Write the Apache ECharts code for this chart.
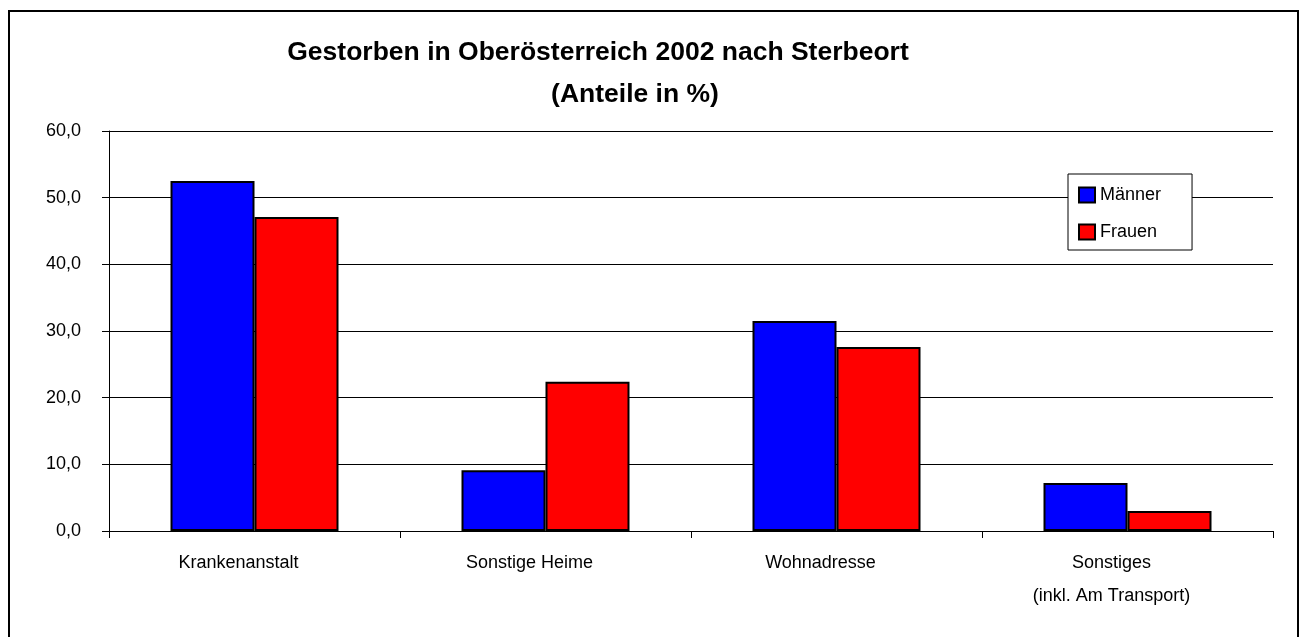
<!DOCTYPE html>
<html lang="de">
<head>
    <meta charset="UTF-8">
    <title>Gestorben in Oberösterreich 2002 nach Sterbeort</title>
    <script src="https://cdn.jsdelivr.net/npm/echarts@6/dist/echarts.min.js"></script>
    <style>
        html, body { margin: 0; padding: 0; background: #fff; }
        #main { width: 1301px; height: 637px; }
    </style>
</head>
<body>
<div id="main"></div>
<script>
    var categories = ['Krankenanstalt', 'Sonstige Heime', 'Wohnadresse', 'Sonstiges\n(inkl. Am Transport)'];
    var seriesNames = ['Männer', 'Frauen'];
    var maenner = [52.5, 9.1, 31.5, 7.2];
    var frauen = [47.1, 22.4, 27.6, 3.0];
    var titleLines = ['Gestorben in Oberösterreich 2002 nach Sterbeort', '(Anteile in %)'];

    var font = "'Liberation Sans', Arial, sans-serif";
    var myChart = echarts.init(document.getElementById('main'));

    var option = {
        animation: false,
        backgroundColor: '#fff',
        textStyle: { fontFamily: font },
        graphic: [
            {
                type: 'rect',
                shape: { x: 9, y: 11, width: 1289, height: 700 },
                style: { fill: 'none', stroke: '#000', lineWidth: 2 },
                silent: true
            },
            {
                type: 'text',
                style: {
                    text: titleLines[0], x: 598, y: 53,
                    textAlign: 'center', textVerticalAlign: 'middle',
                    font: 'bold 26.5px ' + font, fill: '#000'
                }
            },
            {
                type: 'text',
                style: {
                    text: titleLines[1], x: 635, y: 95,
                    textAlign: 'center', textVerticalAlign: 'middle',
                    font: 'bold 26.5px ' + font, fill: '#000'
                }
            }
        ],
        legend: {
            data: seriesNames,
            orient: 'vertical',
            left: 1068,
            top: 174,
            icon: 'rect',
            itemWidth: 16,
            itemHeight: 15,
            itemGap: 19,
            padding: [12, 31, 9, 10],
            borderColor: '#000',
            borderWidth: 1,
            borderRadius: 0,
            backgroundColor: '#fff',
            textStyle: { fontSize: 18, color: '#000', lineHeight: 18, fontFamily: font }
        },
        grid: {
            left: 109,
            top: 131,
            width: 1164,
            height: 400,
            containLabel: false
        },
        xAxis: {
            type: 'category',
            data: categories,
            axisLine: { lineStyle: { color: '#000', width: 1 } },
            axisTick: { show: true, length: 7, lineStyle: { color: '#000' } },
            axisLabel: {
                color: '#000',
                fontSize: 18,
                lineHeight: 33,
                margin: 16,
                interval: 0,
                padding: [0, 32, 0, 0],
                fontFamily: font
            }
        },
        yAxis: {
            type: 'value',
            min: 0,
            max: 60,
            interval: 10,
            axisLine: { show: true, lineStyle: { color: '#000', width: 1 } },
            axisTick: { show: true, length: 7, lineStyle: { color: '#000' } },
            axisLabel: {
                color: '#000',
                fontSize: 18,
                margin: 28,
                fontFamily: font,
                formatter: function (v) { return v.toFixed(1).replace('.', ','); }
            },
            splitLine: { show: true, lineStyle: { color: '#000', width: 1 } }
        },
        series: [
            {
                name: seriesNames[0],
                type: 'bar',
                data: maenner,
                barWidth: 84,
                barGap: '0%',
                itemStyle: { color: '#0000ff', borderColor: '#000', borderWidth: 2 }
            },
            {
                name: seriesNames[1],
                type: 'bar',
                data: frauen,
                barWidth: 84,
                barGap: '0%',
                itemStyle: { color: '#ff0000', borderColor: '#000', borderWidth: 2 }
            }
        ]
    };

    myChart.setOption(option);
    window.addEventListener('resize', function () {
        myChart.resize();
    });
</script>
</body>
</html>
